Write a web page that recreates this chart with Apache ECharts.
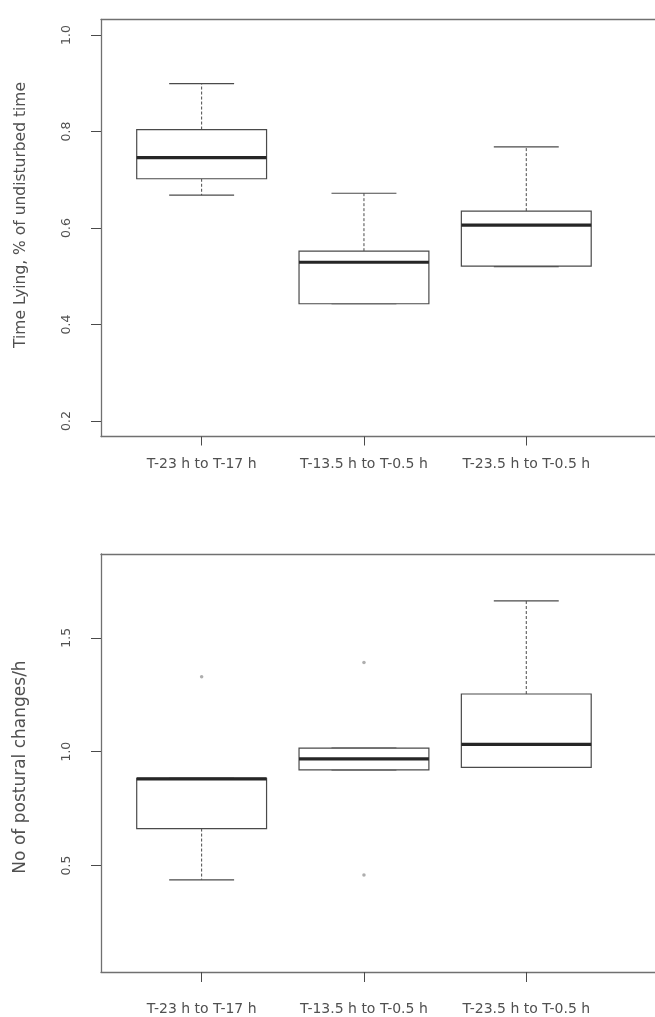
<!DOCTYPE html>
<html>
<head>
<meta charset="utf-8">
<script src="https://cdn.jsdelivr.net/npm/echarts@6/dist/echarts.min.js"></script>
<style>
  html, body { margin: 0; padding: 0; background: #fff; }
  #chart { width: 655px; height: 1017px; }
</style>
</head>
<body>
<div id="chart"></div>
<script>
// Period labels shared by both panels
const categories = ['T-23 h to T-17 h', 'T-13.5 h to T-0.5 h', 'T-23.5 h to T-0.5 h'];

// Time lying, fraction of undisturbed time
const lyingLow    = [0.668, 0.443, 0.520];
const lyingQ1     = [0.702, 0.443, 0.521];
const lyingMedian = [0.746, 0.529, 0.606];
const lyingQ3     = [0.804, 0.552, 0.635];
const lyingHigh   = [0.899, 0.672, 0.768];

// Postural changes per hour
const postureLow    = [0.437, 0.920, 0.931];
const postureQ1     = [0.662, 0.920, 0.931];
const postureMedian = [0.880, 0.968, 1.032];
const postureQ3     = [0.883, 1.015, 1.253];
const postureHigh   = [0.883, 1.015, 1.662];
// [group index, value]
const postureOutliers = [[0, 1.329], [1, 1.391], [1, 0.458]];

const lyingTicks = [0.2, 0.4, 0.6, 0.8, 1.0];
const postureTicks = [0.5, 1.0, 1.5];

const FONT = '"DejaVu Sans", "Liberation Sans", Arial, sans-serif';
const TEXT = '#505050';
const LINE = '#4a4a4a';
const FRAME = '#707070';
const X_MIN = 0.38, X_MAX = 3.793;

function boxRows(lo, q1, med, q3, hi) {
  return categories.map((c, i) => [i + 1, lo[i], q1[i], med[i], q3[i], hi[i]]);
}

function renderBox(params, api) {
  const x = api.value(0);
  const pLo = api.coord([x, api.value(1)]);
  const pQ1 = api.coord([x, api.value(2)]);
  const pMed = api.coord([x, api.value(3)]);
  const pQ3 = api.coord([x, api.value(4)]);
  const pHi = api.coord([x, api.value(5)]);
  const half = api.size([0.4, 0])[0];
  const capHalf = api.size([0.2, 0])[0];
  const cx = pMed[0];
  const dashed = { stroke: LINE, lineWidth: 1, lineDash: [3, 2], fill: null };
  const solid = { stroke: LINE, lineWidth: 1.2, fill: null };
  return {
    type: 'group',
    children: [
      { type: 'line', shape: { x1: cx, y1: pQ3[1], x2: cx, y2: pHi[1] }, style: dashed },
      { type: 'line', shape: { x1: cx, y1: pQ1[1], x2: cx, y2: pLo[1] }, style: dashed },
      { type: 'line', shape: { x1: cx - capHalf, y1: pHi[1], x2: cx + capHalf, y2: pHi[1] }, style: solid },
      { type: 'line', shape: { x1: cx - capHalf, y1: pLo[1], x2: cx + capHalf, y2: pLo[1] }, style: solid },
      { type: 'rect', shape: { x: cx - half, y: pQ3[1], width: 2 * half, height: pQ1[1] - pQ3[1] },
        style: { stroke: LINE, lineWidth: 1.2, fill: '#ffffff' } },
      { type: 'line', shape: { x1: cx - half, y1: pMed[1], x2: cx + half, y2: pMed[1] },
        style: { stroke: '#262626', lineWidth: 3.2 } }
    ]
  };
}

const frameLine = { show: true, lineStyle: { color: FRAME, width: 1.3 } };

function xAxisFor(gridIndex, margin, tickLen) {
  return {
    type: 'value', gridIndex, min: X_MIN, max: X_MAX, position: 'bottom',
    axisLine: frameLine,
    splitLine: { show: false },
    axisTick: { show: true, customValues: [1, 2, 3], length: tickLen, lineStyle: { color: LINE, width: 1 } },
    axisLabel: {
      customValues: [1, 2, 3], margin,
      formatter: v => categories[Math.round(v) - 1] || '',
      fontFamily: FONT, fontSize: 14, color: TEXT
    }
  };
}

// top edge of the plot frame
function xFrameTop(gridIndex) {
  return {
    type: 'value', gridIndex, min: X_MIN, max: X_MAX, position: 'top',
    axisLine: frameLine, axisTick: { show: false }, axisLabel: { show: false }, splitLine: { show: false }
  };
}

function yAxisFor(gridIndex, min, max, ticks, name, nameSize, namePadding) {
  return {
    type: 'value', gridIndex, min, max,
    name, nameLocation: 'middle', nameRotate: 90, nameGap: 72,
    nameTextStyle: { fontFamily: FONT, fontSize: nameSize, color: TEXT, padding: namePadding },
    axisLine: frameLine,
    splitLine: { show: false },
    axisTick: { show: true, customValues: ticks, length: 10, lineStyle: { color: LINE, width: 1 } },
    axisLabel: {
      customValues: ticks, rotate: 90, margin: 28,
      formatter: v => Number(v).toFixed(1),
      fontFamily: FONT, fontSize: 12.5, color: TEXT
    }
  };
}

const chart = echarts.init(document.getElementById('chart'), null, { renderer: 'canvas' });
chart.setOption({
  backgroundColor: '#ffffff',
  animation: false,
  grid: [
    { left: 101, top: 19.5, right: 0, height: 417 },
    { left: 101, top: 554, right: 0, height: 418 }
  ],
  xAxis: [xAxisFor(0, 21, 9), xFrameTop(0), xAxisFor(1, 30, 10), xFrameTop(1)],
  yAxis: [
    yAxisFor(0, 0.168, 1.032, lyingTicks, 'Time Lying, % of undisturbed time', 15.5, [0, 0, 0, 26]),
    yAxisFor(1, 0.032, 1.868, postureTicks, 'No of postural changes/h', 17, [0, 8, 0, 0])
  ],
  series: [
    {
      type: 'custom', xAxisIndex: 0, yAxisIndex: 0,
      data: boxRows(lyingLow, lyingQ1, lyingMedian, lyingQ3, lyingHigh),
      encode: { x: 0, y: [1, 2, 3, 4, 5] },
      renderItem: renderBox
    },
    {
      type: 'custom', xAxisIndex: 2, yAxisIndex: 1,
      data: boxRows(postureLow, postureQ1, postureMedian, postureQ3, postureHigh),
      encode: { x: 0, y: [1, 2, 3, 4, 5] },
      renderItem: renderBox
    },
    {
      type: 'scatter', xAxisIndex: 2, yAxisIndex: 1,
      data: postureOutliers.map(p => [p[0] + 1, p[1]]),
      symbol: 'circle', symbolSize: 3.5,
      itemStyle: { color: '#9a9a9a' }
    }
  ]
});
</script>
</body>
</html>
